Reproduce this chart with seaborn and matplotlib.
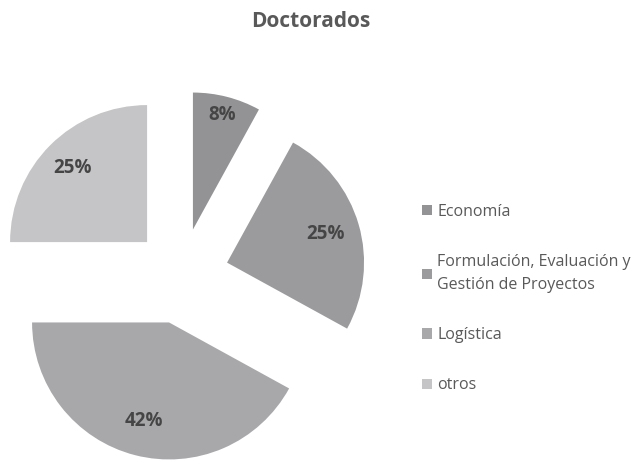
"""Doctorados pie chart (exploded slices, grey palette)."""

import seaborn as sns
import matplotlib.pyplot as plt
import numpy as np

sns.set_theme(style="white")
plt.rcParams['font.family'] = ['Open Sans', 'DejaVu Sans']

# ── Data ──────────────────────────────────────────────────────────
categories = ['Economía',
              'Formulación, Evaluación y\nGestión de Proyectos',
              'Logística',
              'otros']
shares = [8, 25, 42, 25]
colors = ['#939396', '#9b9b9e', '#a8a8ab', '#c5c5c8']
label_dist = [0.86, 0.75, 0.74, 0.77]

W, H = 637, 461
R = 137            # pie radius in px
CX, CY = 181, 276  # pie centre in px (from top-left)

fig = plt.figure(figsize=(W / 100, H / 100), dpi=100)
ax = fig.add_axes([0, 0, 1, 1])

wedges, texts, autotexts = ax.pie(
    shares, colors=colors, explode=[0.35] * len(shares),
    startangle=90, counterclock=False, autopct='%1.0f%%',
    wedgeprops=dict(linewidth=0),
    textprops=dict(fontsize=13.5, fontweight='bold', color='#454545'),
)

# place percentage labels along each wedge's bisector
for w, t, d in zip(wedges, autotexts, label_dist):
    mid = np.deg2rad((w.theta1 + w.theta2) / 2)
    cx, cy = w.center
    t.set_position((cx + d * np.cos(mid), cy + d * np.sin(mid)))

ax.set_aspect('auto')
ax.set_xlim(-CX / R, (W - CX) / R)
ax.set_ylim(-(H - CY) / R, CY / R)
ax.axis('off')

fig.text(310.5 / W, 1 - 27 / H, 'Doctorados', ha='center', va='baseline',
         fontsize=15, fontweight='bold', color='#595959')

leg = fig.legend(wedges, categories, loc='center left',
                 bbox_to_anchor=(422 / W, 1 - 298.5 / H),
                 frameon=False, fontsize=11.5, labelcolor='#595959',
                 handlelength=0.62, handleheight=0.62, handletextpad=0.35,
                 labelspacing=2.15, borderpad=0, borderaxespad=0)
for t in leg.get_texts():
    t.set_linespacing(1.55)

plt.savefig('out.png', dpi=100)
plt.close()
